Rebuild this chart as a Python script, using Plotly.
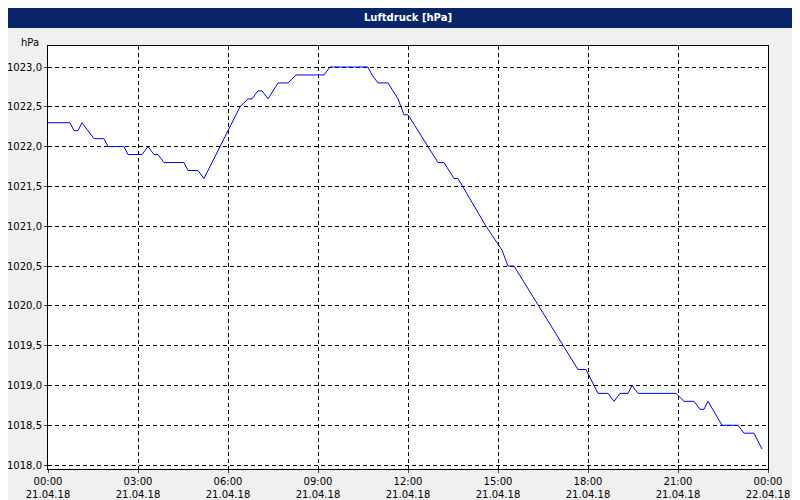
import plotly.graph_objects as go
from datetime import datetime, timedelta

px_x = [40,62,66,70,74,80,86,96,100,116,120,134,140,146,150,156,176,180,190,196,212,220,232,240,244,250,254,260,270,280,288,316,322,360,364,370,380,390,396,400,420,430,436,446,450,478,494,500,506,550,570,578,590,600,606,612,620,624,630,668,676,686,692,696,700,714,730,736,746,754]
values = [1022.3,1022.3,1022.2,1022.2,1022.3,1022.2,1022.1,1022.1,1022.0,1022.0,1021.9,1021.9,1022.0,1021.9,1021.9,1021.8,1021.8,1021.7,1021.7,1021.6,1022.0,1022.2,1022.5,1022.6,1022.6,1022.7,1022.7,1022.6,1022.8,1022.8,1022.9,1022.9,1023.0,1023.0,1022.9,1022.8,1022.8,1022.6,1022.4,1022.4,1022.0,1021.8,1021.8,1021.6,1021.6,1021.0,1020.7,1020.5,1020.5,1019.6,1019.2,1019.2,1018.9,1018.9,1018.8,1018.9,1018.9,1019.0,1018.9,1018.9,1018.8,1018.8,1018.7,1018.7,1018.8,1018.5,1018.5,1018.4,1018.4,1018.2]
start = datetime(2018,4,21)
times = [start + timedelta(hours=(p-40)/30) for p in px_x]

tick_vals = [start + timedelta(hours=3*i) for i in range(9)]
tick_text = [f"{t:%H:%M}<br>{t:%d.%m.%y}" for t in tick_vals]
y_ticks = [1018.0+0.5*i for i in range(11)]
y_text = [f"{v:.1f}".replace(".", ",") for v in y_ticks]

fig = go.Figure(go.Scatter(x=times, y=values, mode="lines", line=dict(color="#0000ff", width=1)))
fig.update_layout(
    width=800, height=500, paper_bgcolor="#f0f0f0", plot_bgcolor="white",
    margin=dict(l=40, r=40, t=38, b=39, autoexpand=False), showlegend=False,
    font=dict(family="DejaVu Sans", size=10, color="black"),
    shapes=[dict(type="rect", xref="paper", yref="paper", x0=-0.06, x1=1.06, y0=1.0 + 18/423, y1=1.0 + 40/423, fillcolor="#0a246a", line_width=0, layer="below")],
    annotations=[
        dict(text="<b>Luftdruck [hPa]</b>", xref="paper", yref="paper", x=0.5, y=1.0 + 28/423, showarrow=False, font=dict(color="white", size=10), yanchor="middle"),
        dict(text="hPa", xref="paper", yref="paper", x=-0.01, y=1.0 - 4/423, showarrow=False, xanchor="right", yanchor="bottom", font=dict(size=10)),
    ],
)
fig.update_xaxes(range=[start, start+timedelta(hours=24)], tickvals=tick_vals, ticktext=tick_text, showgrid=True, automargin=False,
                 gridcolor="black", griddash="4px,3px", gridwidth=1, showline=True, linecolor="black", mirror=True, ticks="outside", ticklen=3)
fig.update_yaxes(range=[1017.95, 1023.264], tickvals=y_ticks, ticktext=y_text, showgrid=True, automargin=False,
                 gridcolor="black", griddash="4px,3px", gridwidth=1, showline=True, linecolor="black", mirror=True, ticks="outside", ticklen=3)
fig.write_html("out.html")
